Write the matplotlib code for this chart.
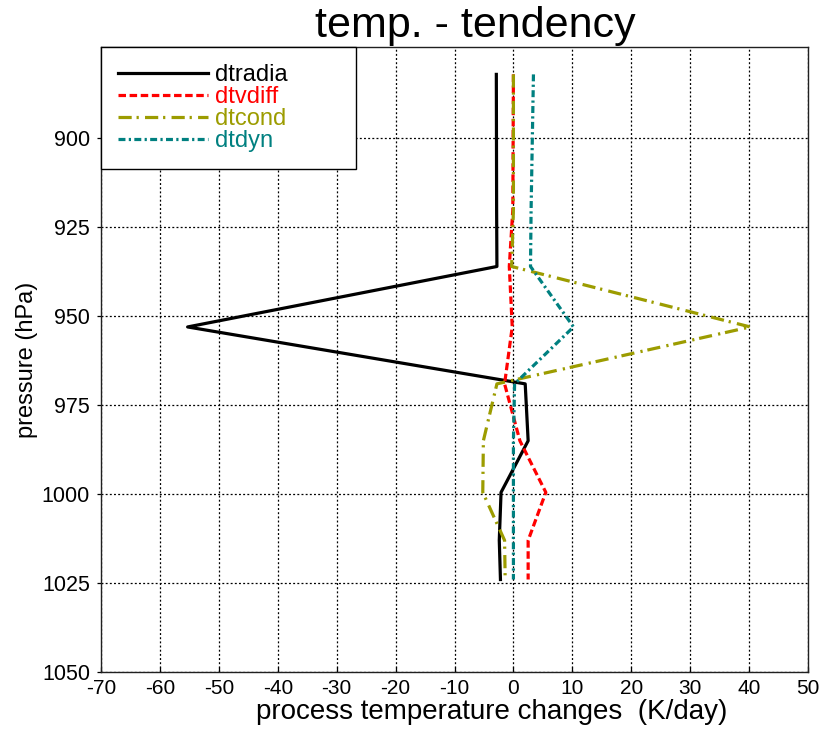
import matplotlib
matplotlib.use("Agg")
import matplotlib.pyplot as plt

plt.rcParams["font.family"] = ["Liberation Sans", "DejaVu Sans"]
plt.rcParams["axes.unicode_minus"] = False
plt.rcParams["lines.scale_dashes"] = False

# model levels (hPa) and process tendencies (K/day)
pressure = [882, 920, 936, 953, 969, 985, 999.5, 1013, 1024]
dtradia = [-2.9, -2.85, -2.8, -55.3, 2.0, 2.5, -2.1, -2.4, -2.2]
dtvdiff = [0.0, -0.1, -0.7, -0.2, -1.5, 1.1, 5.5, 2.5, 2.5]
dtcond = [0.0, 0.0, -0.3, 40.2, -2.8, -5.1, -5.2, -1.5, -1.4]
dtdyn = [3.4, 3.0, 2.9, 10.2, 0.2, 0.0, 0.0, 0.0, 0.0]

x_ticks = list(range(-70, 51, 10))
y_ticks = [900, 925, 950, 975, 1000, 1025, 1050]

fig = plt.figure(figsize=(8.26, 7.29), dpi=100)
ax = fig.add_axes([101 / 826, 1 - 672 / 729, 707 / 826, 625 / 729])

lw = 2.3
ax.plot(dtradia, pressure, color="black", lw=lw, label="dtradia")
ax.plot(dtvdiff, pressure, color="#ff0000", lw=lw, dashes=(5.4, 2.6), label="dtvdiff")
ax.plot(dtcond, pressure, color="#9c9c00", lw=lw, dashes=(9.5, 3.5, 1.6, 4.5), label="dtcond")
ax.plot(dtdyn, pressure, color="#008080", lw=lw, dashes=(5.0, 2.4, 1.6, 2.4), label="dtdyn")

ax.set_xlim(-70, 50)
ax.set_ylim(1050, 874.3)
ax.set_xticks(x_ticks)
ax.set_xticklabels([str(v) for v in x_ticks])
ax.set_yticks(y_ticks)
ax.set_yticklabels([str(v) for v in y_ticks])

ax.grid(True, color="black", lw=0.9, linestyle=(0, (1.4, 1.6)))
ax.set_axisbelow(True)

ax.tick_params(axis="x", direction="in", length=3.5, width=0.9, pad=5, labelsize=15)
ax.tick_params(axis="y", direction="out", length=3, width=0.9, pad=5, labelsize=15.5)
for sp in ax.spines.values():
    sp.set_linewidth(1.0)
    sp.set_color("#202020")

leg = ax.legend(loc="upper left", bbox_to_anchor=(0, 1, 255 / 707, 0), mode="expand",
                borderaxespad=0, fontsize=17, labelcolor="linecolor",
                handlelength=3.8, handletextpad=0.3, labelspacing=0.0,
                borderpad=0.72, fancybox=False, framealpha=1)
leg.get_frame().set_edgecolor("black")
leg.get_frame().set_linewidth(1.0)

fig.text(475 / 826, 1 - 37 / 729, "temp. - tendency", fontsize=31, ha="center", va="baseline")
fig.text(491.5 / 826, 1 - 719 / 729, "process temperature changes  (K/day)", fontsize=20,
         ha="center", va="baseline")
fig.text(27 / 826, 1 - 360 / 729, "pressure (hPa)", fontsize=17, rotation=90,
         ha="center", va="center")

fig.savefig("out.png", dpi=100)
